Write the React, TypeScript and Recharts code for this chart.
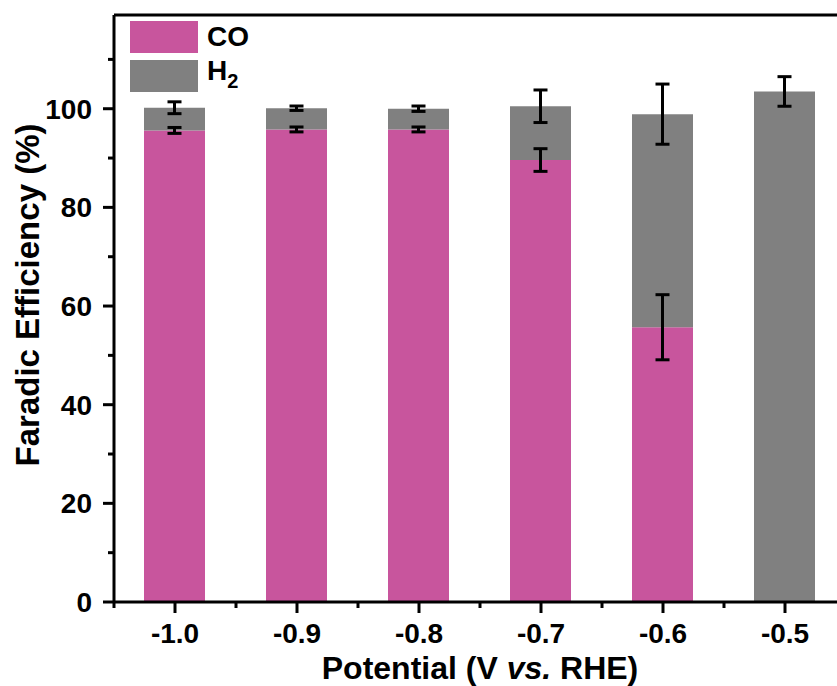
import React from 'react'
import {
  BarChart,
  Bar,
  XAxis,
  YAxis,
  ErrorBar,
  Legend,
  ReferenceLine,
  Label,
} from 'recharts'

const potentials = [-1.0, -0.9, -0.8, -0.7, -0.6, -0.5]
const coFE = [95.6, 95.8, 95.8, 89.6, 55.7, 0]
const h2FE = [4.6, 4.3, 4.2, 10.9, 43.2, 103.5]
const coErr = [0.6, 0.5, 0.5, 2.3, 6.6, 0]
const h2Err = [1.2, 0.45, 0.55, 3.3, 6.1, 3.0]

const xTicks = [-1.05, -1.0, -0.95, -0.9, -0.85, -0.8, -0.75, -0.7, -0.65, -0.6, -0.55, -0.5, -0.45]
const yTicks = [0, 10, 20, 30, 40, 50, 60, 70, 80, 90, 100, 110]

const CO_COLOR = '#C8559D'
const H2_COLOR = '#808080'
const FONT = '"Liberation Sans", Arial, Helvetica, sans-serif'

const data = potentials.map((p, i) => ({
  potential: p,
  co: coFE[i],
  h2: h2FE[i],
  coErr: coErr[i],
  h2Err: h2Err[i],
}))

const isMajorX = (v: number) => potentials.some((p) => Math.abs(p - v) < 1e-6)

function XTick(props: any) {
  const { x, y, payload } = props
  const major = isMajorX(payload.value)
  return (
    <g>
      <line x1={x} x2={x} y1={y} y2={y + (major ? 11 : 6)} stroke="#000" strokeWidth={3} />
      {major && (
        <text
          x={x}
          y={y + 41}
          textAnchor="middle"
          fontFamily={FONT}
          fontWeight="bold"
          fontSize={28}
          fill="#000"
        >
          {payload.value.toFixed(1)}
        </text>
      )}
    </g>
  )
}

function YTick(props: any) {
  const { x, y, payload } = props
  const major = payload.value % 20 === 0
  return (
    <g>
      <line x1={x} x2={x - (major ? 11 : 6)} y1={y} y2={y} stroke="#000" strokeWidth={3} />
      {major && (
        <text
          x={x - 22}
          y={y + 10}
          textAnchor="end"
          fontFamily={FONT}
          fontWeight="bold"
          fontSize={28}
          fill="#000"
        >
          {payload.value}
        </text>
      )}
    </g>
  )
}

function LegendBox(props: any) {
  const { payload } = props
  return (
    <div style={{ fontFamily: FONT, fontWeight: 'bold', fontSize: 28, color: '#000' }}>
      {payload.map((item: any) => (
        <div key={item.value} style={{ display: 'flex', alignItems: 'center', height: 32, marginBottom: 7 }}>
          <div style={{ width: 68, height: 32, background: item.color, marginRight: 9 }} />
          <span style={{ lineHeight: '32px' }}>
            {item.value === 'H2' ? (
              <>
                H<sub style={{ fontSize: 20, verticalAlign: -8 }}>2</sub>
              </>
            ) : (
              item.value
            )}
          </span>
        </div>
      ))}
    </div>
  )
}

export default function App() {
  return (
    <div
      style={{
        position: 'fixed',
        left: 0,
        top: 0,
        width: 837,
        height: 686,
        overflow: 'hidden',
        background: '#fff',
      }}
    >
      <BarChart
        width={860}
        height={686}
        data={data}
        margin={{ top: 15, right: 14, bottom: 0, left: 0 }}
      >
        <XAxis
          dataKey="potential"
          type="number"
          domain={[-1.05, -0.45]}
          ticks={xTicks}
          interval={0}
          height={84}
          tickSize={0}
          tickMargin={0}
          tickLine={false}
          tick={<XTick />}
          axisLine={{ stroke: '#000', strokeWidth: 3 }}
        >
          <Label
            content={() => (
              <text
                x={480}
                y={679}
                textAnchor="middle"
                fontFamily={FONT}
                fontWeight="bold"
                fontSize={32}
                fill="#000"
              >
                Potential (V <tspan fontStyle="italic">vs.</tspan> RHE)
              </text>
            )}
          />
        </XAxis>
        <YAxis
          type="number"
          domain={[0, 119]}
          ticks={yTicks}
          interval={0}
          width={114}
          tickSize={0}
          tickMargin={0}
          tickLine={false}
          tick={<YTick />}
          axisLine={{ stroke: '#000', strokeWidth: 3 }}
        >
          <Label
            content={() => (
              <text
                x={39}
                y={295}
                transform="rotate(-90 39 295)"
                textAnchor="middle"
                fontFamily={FONT}
                fontWeight="bold"
                fontSize={33}
                fill="#000"
              >
                Faradic Efficiency (%)
              </text>
            )}
          />
        </YAxis>
        <ReferenceLine y={119} stroke="#000" strokeWidth={3} />
        <ReferenceLine x={-0.45} stroke="#000" strokeWidth={3} />
        <Legend
          layout="vertical"
          align="center"
          verticalAlign="middle"
          content={<LegendBox />}
          wrapperStyle={{ position: 'absolute', top: 21, left: 130, width: 'auto' }}
        />
        <Bar dataKey="co" name="CO" stackId="fe" fill={CO_COLOR} barSize={61} isAnimationActive={false}>
          <ErrorBar dataKey="coErr" width={7} strokeWidth={3} stroke="#000" direction="y" />
        </Bar>
        <Bar dataKey="h2" name="H2" stackId="fe" fill={H2_COLOR} barSize={61} isAnimationActive={false}>
          <ErrorBar dataKey="h2Err" width={7} strokeWidth={3} stroke="#000" direction="y" />
        </Bar>
      </BarChart>
    </div>
  )
}
